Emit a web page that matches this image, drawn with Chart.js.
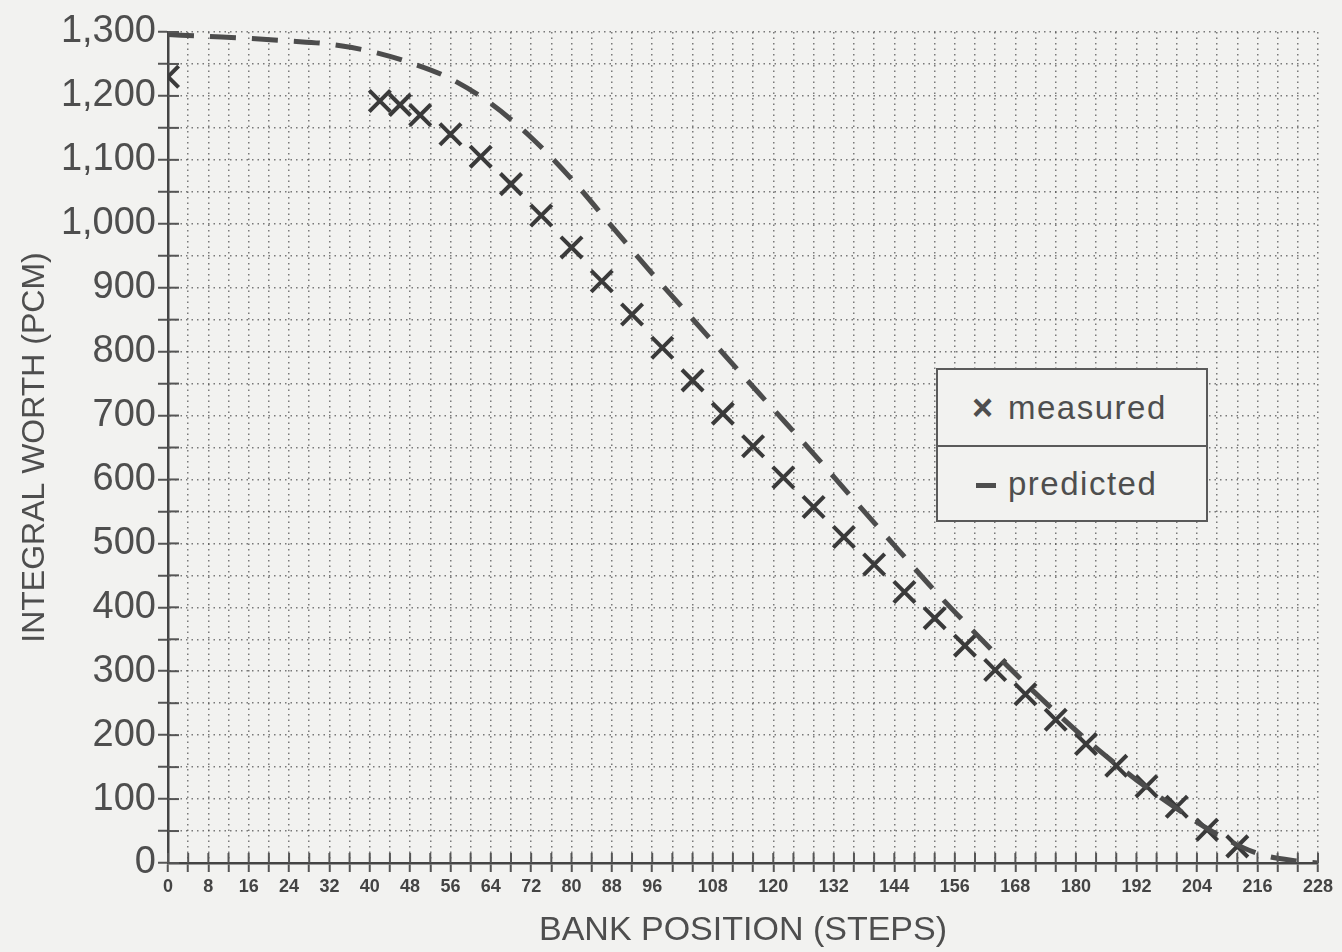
<!DOCTYPE html>
<html>
<head>
<meta charset="utf-8">
<script src="https://cdn.jsdelivr.net/npm/chart.js@4/dist/chart.umd.min.js"></script>
<style>
  html, body { margin: 0; padding: 0; background: #f2f2f0; }
  #wrap { position: relative; width: 1342px; height: 952px; }
  #legend {
    position: absolute; left: 936px; top: 368px; width: 272px; height: 154px;
    border: 2.5px solid #5a5a5a; box-sizing: border-box; background: #f2f2f0;
    font-family: "Liberation Sans", Arial, sans-serif; color: #4e4e4e;
  }
  #legend .row { height: 50%; display: flex; align-items: center; font-size: 33px; letter-spacing: 1.5px; box-sizing: border-box; }
  #legend .row + .row { border-top: 2.5px solid #5a5a5a; }
  #legend .x { display: inline-block; width: 36px; margin-left: 34px; font-size: 36px; font-weight: bold; }
  #legend .dash { display: inline-block; width: 20px; height: 5px; background: #4e4e4e; margin-left: 38px; margin-right: 12px; margin-top: 4px; }
</style>
</head>
<body>
<div id="wrap">
  <canvas id="c" width="1342" height="952"></canvas>
  <div id="legend">
    <div class="row"><span class="x">×</span>measured</div>
    <div class="row"><span class="dash"></span>predicted</div>
  </div>
</div>
<script>
// ---- data ----
const measuredSteps = [0, 42, 46, 50, 56, 62, 68, 74, 80, 86, 92, 98, 104, 110, 116, 122, 128, 134, 140, 146, 152, 158, 164, 170, 176, 182, 188, 194, 200, 206, 212];
const measuredWorth = [1230, 1192, 1186, 1170, 1140, 1105, 1062, 1013, 963, 910, 858, 806, 755, 703, 652, 603, 557, 510, 467, 424, 383, 340, 302, 264, 224, 186, 152, 120, 88, 52, 26];

const predictedSteps = [0, 8, 16, 24, 32, 40, 48, 56, 64, 72, 80, 88, 96, 104, 112, 120, 128, 136, 144, 152, 160, 168, 176, 184, 192, 200, 208, 216, 224, 228];
const predictedWorth = [1296, 1293, 1290, 1286, 1281, 1270, 1252, 1227, 1188, 1135, 1070, 996, 922, 851, 780, 710, 640, 568, 497, 426, 360, 296, 236, 180, 130, 85, 45, 15, 3, 0];

const xTickLabels = [0, 8, 16, 24, 32, 40, 48, 56, 64, 72, 80, 88, 96, 108, 120, 132, 144, 156, 168, 180, 192, 204, 216, 228];
const yTickLabels = [0, 100, 200, 300, 400, 500, 600, 700, 800, 900, 1000, 1100, 1200, 1300];

const ink = '#4e4e4e';
const gridCol = 'rgba(70,70,70,0.7)';

const crossTicks = {
  id: 'crossTicks',
  afterDatasetsDraw(chart) {
    const { ctx, chartArea, scales: { x, y } } = chart;
    ctx.save();
    ctx.strokeStyle = '#555';
    ctx.lineWidth = 2;
    x.ticks.forEach(t => {
      const px = x.getPixelForValue(t.value);
      ctx.beginPath(); ctx.moveTo(px, chartArea.bottom); ctx.lineTo(px, chartArea.bottom - 10); ctx.stroke();
    });
    y.ticks.forEach(t => {
      const py = y.getPixelForValue(t.value);
      ctx.beginPath(); ctx.moveTo(chartArea.left, py); ctx.lineTo(chartArea.left + 11, py); ctx.stroke();
    });
    ctx.restore();
  }
};

new Chart(document.getElementById('c'), {
  type: 'scatter',
  data: {
    datasets: [
      {
        label: 'predicted',
        data: predictedSteps.map((s, i) => ({ x: s, y: predictedWorth[i] })),
        showLine: true,
        borderColor: '#4c4c4c',
        borderWidth: 5,
        borderDash: [26, 16],
        pointRadius: 0,
        cubicInterpolationMode: 'monotone',
        fill: false
      },
      {
        label: 'measured',
        data: measuredSteps.map((s, i) => ({ x: s, y: measuredWorth[i] })),
        showLine: false,
        pointStyle: 'crossRot',
        pointRadius: 15,
        pointBorderWidth: 4,
        borderColor: '#3a3a3a',
        backgroundColor: '#3a3a3a'
      }
    ]
  },
  options: {
    responsive: false,
    animation: false,
    layout: { padding: { left: 0, right: 24, top: 32, bottom: 0 } },
    plugins: { legend: { display: false }, tooltip: { enabled: false } },
    scales: {
      x: {
        type: 'linear', min: 0, max: 228,
        afterFit(s) { s.height = 89; },
        afterBuildTicks(s) {
          const t = [];
          for (let v = 0; v <= 228; v += 4) t.push({ value: v });
          s.ticks = t;
        },
        ticks: {
          autoSkip: false, maxRotation: 0, padding: 4,
          color: '#444',
          font: { family: '"Liberation Sans Narrow", "Liberation Sans", Arial', size: 18, weight: 'bold' },
          callback: v => xTickLabels.includes(v) ? String(v) : ''
        },
        grid: {
          color: gridCol, lineWidth: 1.5,
          tickLength: 9, tickColor: '#555', tickWidth: 2, tickBorderDash: []
        },
        border: { display: true, color: '#444', width: 2.5, dash: [1.5, 4] },
        title: {
          display: true, text: 'BANK POSITION (STEPS)', color: ink,
          font: { family: '"Liberation Sans", Arial', size: 34 },
          padding: { top: 0, bottom: 1 }
        }
      },
      y: {
        type: 'linear', min: 0, max: 1300,
        afterFit(s) { s.width = 168; },
        ticks: {
          stepSize: 50, autoSkip: false, padding: 2,
          color: ink,
          font: { family: '"Liberation Sans", Arial', size: 38 },
          callback: v => yTickLabels.includes(v) ? v.toLocaleString('en-US') : ''
        },
        grid: {
          color: gridCol, lineWidth: 1.5,
          tickLength: 10, tickColor: '#555', tickWidth: 2, tickBorderDash: []
        },
        border: { display: true, color: '#444', width: 2.5, dash: [1.5, 4] },
        title: {
          display: true, text: 'INTEGRAL WORTH (PCM)', color: ink,
          font: { family: '"Liberation Sans", Arial', size: 32 },
          padding: { top: 16, bottom: 0 }
        }
      }
    }
  },
  plugins: [crossTicks]
});
</script>
</body>
</html>
